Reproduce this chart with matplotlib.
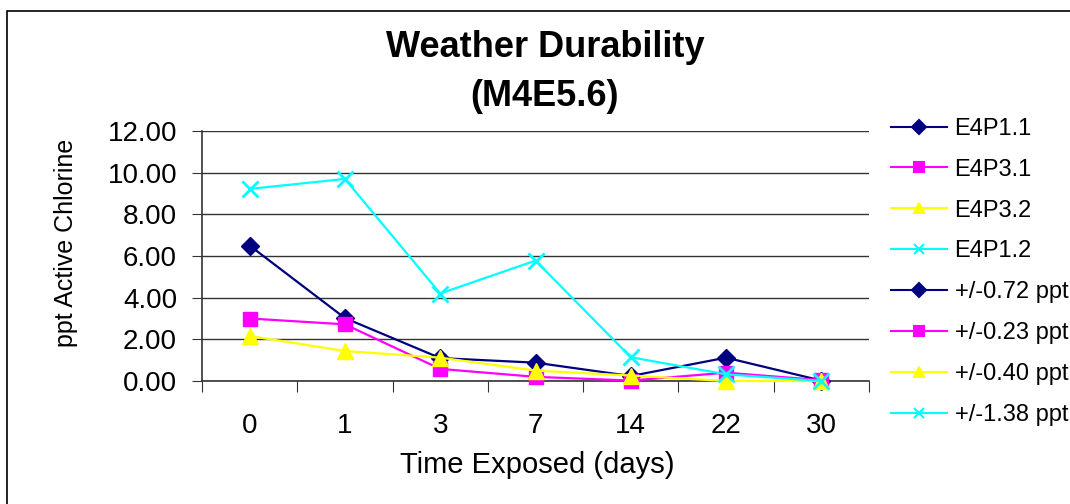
import matplotlib.pyplot as plt
from matplotlib.lines import Line2D
from matplotlib.patches import Rectangle
import numpy as np

plt.rcParams['font.family'] = ['Liberation Sans', 'DejaVu Sans']

days = ['0', '1', '3', '7', '14', '22', '30']
e4p11 = [6.50, 3.02, 1.10, 0.88, 0.24, 1.12, 0.02]
e4p31 = [3.00, 2.72, 0.58, 0.20, 0.02, 0.40, 0.04]
e4p32 = [2.16, 1.44, 1.12, 0.50, 0.26, 0.00, 0.00]
e4p12 = [9.22, 9.70, 4.20, 5.78, 1.14, 0.32, 0.00]

names = ['E4P1.1', 'E4P3.1', 'E4P3.2', 'E4P1.2']
err_labels = ['+/-0.72 ppt', '+/-0.23 ppt', '+/-0.40 ppt', '+/-1.38 ppt']
colors = ['#000080', '#FF00FF', '#FFFF00', '#00FFFF']
markers = ['D', 's', '^', 'x']
msizes = [9, 10, 11, 12]

fig = plt.figure(figsize=(10.7, 5.04), dpi=100)
ax = fig.add_axes([202/1070, 1-381/504, 667/1070, 250/504])

x = np.arange(len(days))
series = [e4p11, e4p31, e4p32, e4p12]
for s, c, m, ms, n in zip(series, colors, markers, msizes, names):
    ax.plot(x, s, color=c, marker=m, markersize=ms, lw=1.6, mew=2 if m == 'x' else 1,
            markeredgecolor=c, label=n, clip_on=False, zorder=3)

ax.set_xlim(-0.5, len(days) - 0.5)
ax.set_ylim(0, 12)
ax.set_yticks(np.arange(0, 13, 2))
ax.set_yticklabels(['%.2f' % v for v in np.arange(0, 13, 2)], fontsize=20)
ax.yaxis.grid(True, color='#333333', lw=1)
ax.set_axisbelow(True)

# category axis: tick marks between categories, labels centred
ax.set_xticks(np.arange(-0.5, len(days), 1))
ax.set_xticklabels([])
ax.set_xticks(x, minor=True)
ax.set_xticklabels(days, minor=True, fontsize=20)
ax.tick_params(axis='x', which='minor', length=0, pad=23)
ax.tick_params(axis='x', which='major', length=8, color='#333333')
ax.tick_params(axis='y', length=7, pad=11, color='#333333')

for sp in ['top', 'right']:
    ax.spines[sp].set_visible(False)
for sp in ['left', 'bottom']:
    ax.spines[sp].set_color('#333333')
    ax.spines[sp].set_linewidth(1.2)

fig.text(545/1070, 1-72/504, 'Weather Durability\n(M4E5.6)', ha='center', va='center',
         fontsize=26, fontweight='bold', linespacing=1.5)
fig.text(537/1070, 1-465/504, 'Time Exposed (days)', ha='center', va='center', fontsize=21)
fig.text(66/1070, 1-243/504, 'ppt Active Chlorine', ha='center', va='center',
         rotation=90, fontsize=18)

handles = []
for c, m, n in zip(colors, markers, names):
    handles.append(Line2D([], [], color=c, marker=m, markersize=7, lw=1.5, mew=1.5, label=n))
for c, m, n in zip(colors, markers, err_labels):
    handles.append(Line2D([], [], color=c, marker=m, markersize=7, lw=1.5, mew=1.5, label=n))
fig.legend(handles=handles, loc='upper left', bbox_to_anchor=(879/1070, 1-106/504),
           frameon=False, fontsize=17, borderpad=0, handlelength=2.4,
           handletextpad=0.3, labelspacing=0.8)

fig.patches.append(Rectangle((7/1070, -0.1), 1.2, 1-11/504+0.1, transform=fig.transFigure,
                             fill=False, ec='black', lw=1.2))

fig.savefig('out.png', dpi=100)
